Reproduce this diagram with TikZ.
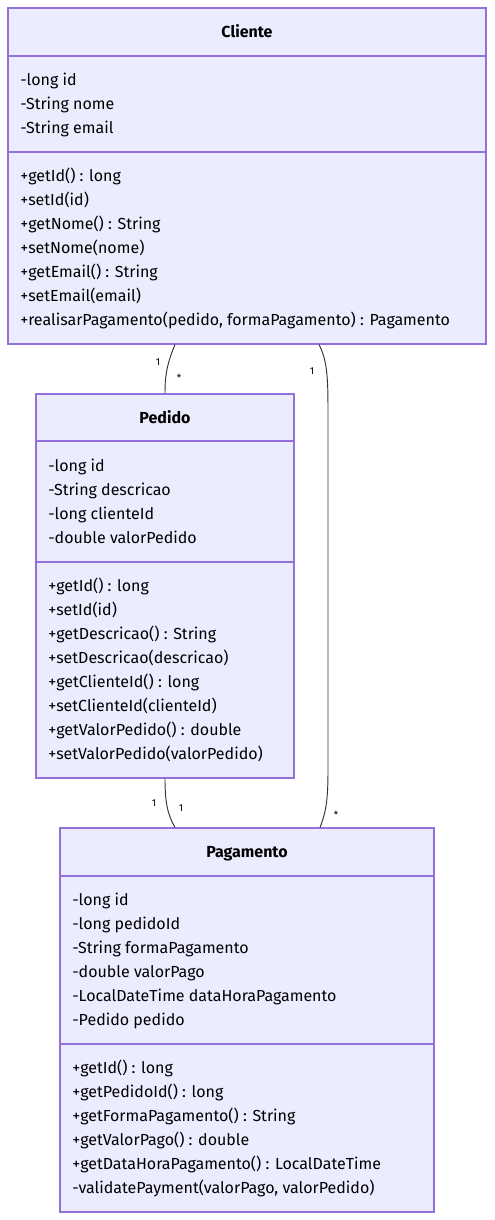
\documentclass[tikz,border=0pt]{standalone}
\usepackage{fontspec}
\setmainfont{Fira Sans}
\usetikzlibrary{fit}
\definecolor{boxfill}{HTML}{ECECFF}
\definecolor{boxline}{HTML}{9370DB}
\definecolor{edgecol}{HTML}{333333}
\begin{document}
\begin{tikzpicture}[x=0.75pt,y=-0.75pt,
  box/.style={draw=boxline,fill=boxfill,line width=0.9pt,inner sep=0pt,rectangle},
  divider/.style={draw=boxline,line width=0.9pt},
  member/.style={anchor=west,inner sep=0pt,yshift=-1.8pt,font=\fontsize{12}{14}\selectfont,text height=9pt,text depth=3pt,text=black},
  title/.style={inner sep=0pt,yshift=-2pt,font=\fontsize{12}{14}\selectfont\bfseries,text height=9pt,text depth=3pt},
  rel/.style={draw=edgecol,line width=0.7pt},
  mult/.style={inner sep=0pt,font=\fontsize{7.5}{9}\selectfont,text=black}]
\useasboundingbox[fill=white] (0,0) rectangle (494,1220);
% Cliente
\node[box,fit={(8,8) (486,344)}] (cliente) {};
\draw[divider] (8,56) -- (486,56);
\draw[divider] (8,152) -- (486,152);
\node[title] (clienteT) at (247,31) {Cliente};
\foreach \t [count=\i] in {-long id,-String nome,-String email}
  \node[member] (ca\i) at (20,{55+24*\i}) {\t};
\foreach \t [count=\i] in {+getId() : long,+setId(id),+getNome() : String,+setNome(nome),+getEmail() : String,+setEmail(email)}
  \node[member] (cm\i) at (20,{151+24*\i}) {\t};
\node[member] (cm7) at (20,319) {+realisarPagamento(pedido, formaPagamento) : Pagamento};
% Pedido
\node[box,fit={(36,394) (294,778)}] (pedido) {};
\draw[divider] (36,441) -- (294,441);
\draw[divider] (36,562) -- (294,562);
\node[title] (pedidoT) at (165,417) {Pedido};
\foreach \t [count=\i] in {-long id,-String descricao,-long clienteId,-double valorPedido}
  \node[member] (pa\i) at (48,{441+24*\i}) {\t};
\foreach \t [count=\i] in {+getId() : long,+setId(id),+getDescricao() : String,+setDescricao(descricao),+getClienteId() : long,+setClienteId(clienteId),+getValorPedido() : double,+setValorPedido(valorPedido)}
  \node[member] (pm\i) at (48,{561+24*\i}) {\t};
% Pagamento
\node[box,fit={(60,828) (434,1212)}] (pagamento) {};
\draw[divider] (60,876) -- (434,876);
\draw[divider] (60,1044) -- (434,1044);
\node[title] (pagamentoT) at (247,851) {Pagamento};
\foreach \t [count=\i] in {-long id,-long pedidoId,-String formaPagamento,-double valorPago,-LocalDateTime dataHoraPagamento,-Pedido pedido}
  \node[member] (ga\i) at (72,{875+24*\i}) {\t};
\foreach \t [count=\i] in {+getId() : long,+getPedidoId() : long,+getFormaPagamento() : String,+getValorPago() : double,+getDataHoraPagamento() : LocalDateTime,-validatePayment(valorPago{,} valorPedido)}
  \node[member] (gm\i) at (72,{1043+24*\i}) {\t};
% relations
\draw[rel] (175,0 |- cliente.south) .. controls (166,366) and (165,378) .. (165,0 |- pedido.north);
\draw[rel] (319,0 |- cliente.south) .. controls (328,362) and (328,380) .. (328,420) -- (328,770) .. controls (328,800) and (326,812) .. (320,0 |- pagamento.north);
\draw[rel] (165,0 |- pedido.south) .. controls (165,800) and (167,814) .. (175,0 |- pagamento.north);
\node[mult] (m1) at (158,362) {1};
\node[mult] (m2) at (179,378) {*};
\node[mult] (m3) at (312,371) {1};
\node[mult] (m4) at (336,815) {*};
\node[mult] (m5) at (154,803) {1};
\node[mult] (m6) at (181,808) {1};
\end{tikzpicture}
\end{document}
